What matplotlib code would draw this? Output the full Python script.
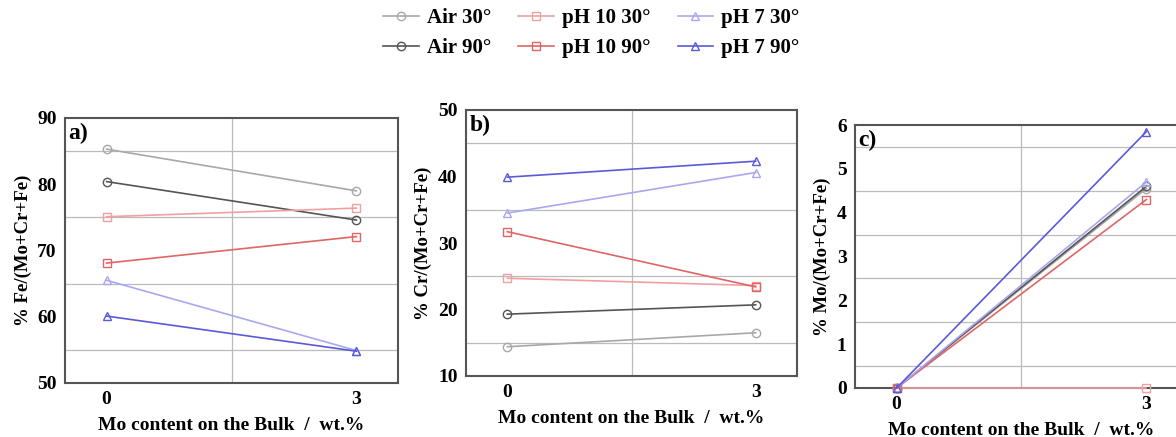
import matplotlib.pyplot as plt
from matplotlib.ticker import MultipleLocator

plt.rcParams['font.family'] = ['Liberation Serif', 'DejaVu Serif']
plt.rcParams['font.weight'] = 'bold'

mo_bulk = [0, 3]
labels = ["Air 30°", "Air 90°", "pH 10 30°", "pH 10 90°", "pH 7 30°", "pH 7 90°"]
colors = ["#a8a8a8", "#555555", "#f0a0a0", "#e06565", "#a8a8f0", "#5a5ad8"]
markers = ["o", "o", "s", "s", "^", "^"]

# % Fe/(Mo+Cr+Fe)
fe_air30 = [85.3, 79.0]
fe_air90 = [80.4, 74.6]
fe_ph10_30 = [75.1, 76.4]
fe_ph10_90 = [68.1, 72.1]
fe_ph7_30 = [65.5, 54.9]
fe_ph7_90 = [60.1, 54.8]

# % Cr/(Mo+Cr+Fe)
cr_air30 = [14.4, 16.5]
cr_air90 = [19.3, 20.7]
cr_ph10_30 = [24.7, 23.6]
cr_ph10_90 = [31.7, 23.4]
cr_ph7_30 = [34.5, 40.6]
cr_ph7_90 = [39.9, 42.3]

# % Mo/(Mo+Cr+Fe)
mo_air30 = [0, 4.55]
mo_air90 = [0, 4.6]
mo_ph10_30 = [0, 0]
mo_ph10_90 = [0, 4.3]
mo_ph7_30 = [0, 4.7]
mo_ph7_90 = [0, 5.85]

panels = [
    ([fe_air30, fe_air90, fe_ph10_30, fe_ph10_90, fe_ph7_30, fe_ph7_90],
     "% Fe/(Mo+Cr+Fe)", (50, 90), 10, "a)"),
    ([cr_air30, cr_air90, cr_ph10_30, cr_ph10_90, cr_ph7_30, cr_ph7_90],
     "% Cr/(Mo+Cr+Fe)", (10, 50), 10, "b)"),
    ([mo_air30, mo_air90, mo_ph10_30, mo_ph10_90, mo_ph7_30, mo_ph7_90],
     "% Mo/(Mo+Cr+Fe)", (0, 6), 1, "c)"),
]
rects = [
    [65 / 1176, 54 / 437, 333 / 1176, 265 / 437],
    [466 / 1176, 61 / 437, 331 / 1176, 266 / 437],
    [855 / 1176, 49 / 437, 333 / 1176, 263 / 437],
]

fig = plt.figure(figsize=(11.76, 4.37), dpi=100)

handles = []
for (series, ylabel, ylim, step, tag), rect in zip(panels, rects):
    ax = fig.add_axes(rect)
    for vals, c, m, lab in zip(series, colors, markers, labels):
        h, = ax.plot(mo_bulk, vals, color=c, marker=m, markersize=6,
                     markerfacecolor='none', markeredgewidth=1, lw=1.2,
                     label=lab, clip_on=False, zorder=3)
        if len(handles) < 6:
            handles.append(h)
    ax.set_xlim(-0.5, 3.5)
    ax.set_ylim(*ylim)
    ax.set_xticks([0, 3])
    ax.xaxis.set_minor_locator(MultipleLocator(1.5))
    ax.yaxis.set_major_locator(MultipleLocator(step))
    ax.yaxis.set_minor_locator(MultipleLocator(step / 2))
    ax.grid(which='minor', color='#bbbbbb', lw=0.9)
    ax.tick_params(which='both', direction='in', length=0, labelsize=14, pad=6)
    for s in ax.spines.values():
        s.set_color('#555555')
        s.set_linewidth(1.5)
    ax.set_xlabel("Mo content on the Bulk  /  wt.%", fontsize=14,
                  fontweight='bold', labelpad=6)
    ax.set_ylabel(ylabel, fontsize=13.5, fontweight='bold', labelpad=4)
    ax.text(0.01, 0.98, tag, transform=ax.transAxes, fontsize=17,
            fontweight='bold', va='top', ha='left')

fig.legend(handles=handles, loc='upper center', bbox_to_anchor=(0.503, 1.025),
           ncol=3, frameon=False, fontsize=15, handlelength=1.7,
           columnspacing=1.3, labelspacing=0.5, handletextpad=0.4)

fig.savefig("out.png", dpi=100)
